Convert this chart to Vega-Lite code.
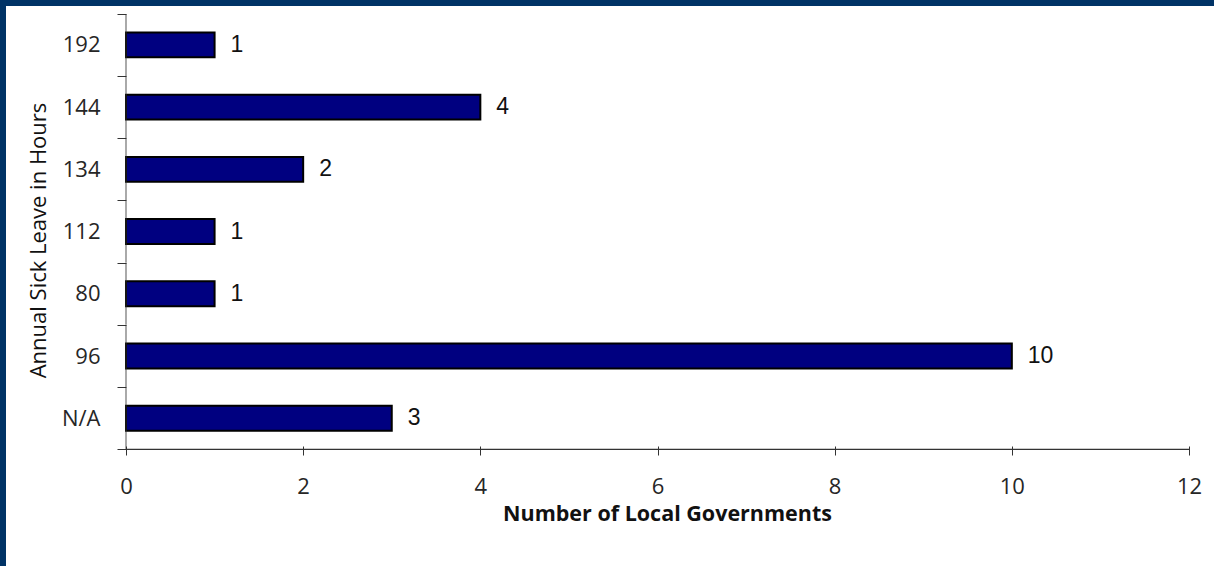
{
  "$schema": "https://vega.github.io/schema/vega-lite/v6.json",
  "width": 1208,
  "height": 560,
  "autosize": {"type": "none"},
  "padding": {"left": 6, "top": 6, "right": 0, "bottom": 0},
  "background": "#003366",
  "config": {
    "view": {"fill": "white", "stroke": null},
    "font": "Open Sans"
  },
  "data": {
    "values": [
      {"hours": "192", "count": 1},
      {"hours": "144", "count": 4},
      {"hours": "134", "count": 2},
      {"hours": "112", "count": 1},
      {"hours": "80", "count": 1},
      {"hours": "96", "count": 10},
      {"hours": "N/A", "count": 3}
    ]
  },
  "encoding": {
    "y": {
      "field": "hours",
      "type": "ordinal",
      "sort": null,
      "scale": {"paddingInner": 0, "paddingOuter": 1.037, "align": 0.0625},
      "axis": {
        "title": "Annual Sick Leave in Hours",
        "offset": -120,
        "domain": false,
        "tickBand": "extent",
        "tickSize": 9,
        "tickColor": "#333333",
        "labelPadding": 17,
        "labelFontSize": 22,
        "labelColor": "#262626",
        "titleFontSize": 22,
        "titleFontWeight": "normal",
        "titleColor": "#111111",
        "titleX": -88,
        "titleY": 234,
        "titleBaseline": "middle",
        "titleAlign": "center",
        "grid": false
      }
    }
  },
  "layer": [
    {
      "mark": {"type": "bar", "height": {"band": 0.4}, "fill": "#000080", "stroke": "#000000", "strokeWidth": 2},
      "encoding": {
        "x": {
          "field": "count",
          "type": "quantitative",
          "scale": {"domain": [-1.35466, 12.28222], "nice": false, "zero": false},
          "axis": {
            "title": "Number of Local Governments",
            "offset": -120,
            "domain": false,
            "values": [0, 2, 4, 6, 8, 10, 12],
            "format": "d",
            "tickSize": 9,
            "tickColor": "#333333",
            "labelBaseline": "alphabetic",
            "labelPadding": 38,
            "labelFontSize": 22,
            "labelColor": "#262626",
            "titleFontSize": 21.5,
            "titleFontWeight": "bold",
            "titleColor": "#111111",
            "titleX": 661,
            "titleY": 74,
            "titleBaseline": "alphabetic",
            "titleAlign": "center",
            "grid": false
          }
        },
        "x2": {"datum": 0}
      }
    },
    {
      "mark": {"type": "text", "align": "left", "baseline": "middle", "dx": 16, "fontSize": 23, "font": "Liberation Sans", "color": "#111111"},
      "encoding": {
        "x": {"field": "count", "type": "quantitative"},
        "text": {"field": "count", "type": "quantitative"}
      }
    },
    {
      "mark": {"type": "tick", "orient": "vertical", "size": 62, "thickness": 1.2, "color": "#333333"},
      "encoding": {
        "x": {"datum": 0, "type": "quantitative"}
      }
    },
    {
      "data": {"values": [{}]},
      "mark": {"type": "rule", "color": "#333333", "strokeWidth": 1.2},
      "encoding": {
        "x": {"datum": 0, "type": "quantitative"},
        "x2": {"datum": 12},
        "y": {"datum": "N/A", "type": "ordinal", "bandPosition": 1}
      }
    }
  ]
}
